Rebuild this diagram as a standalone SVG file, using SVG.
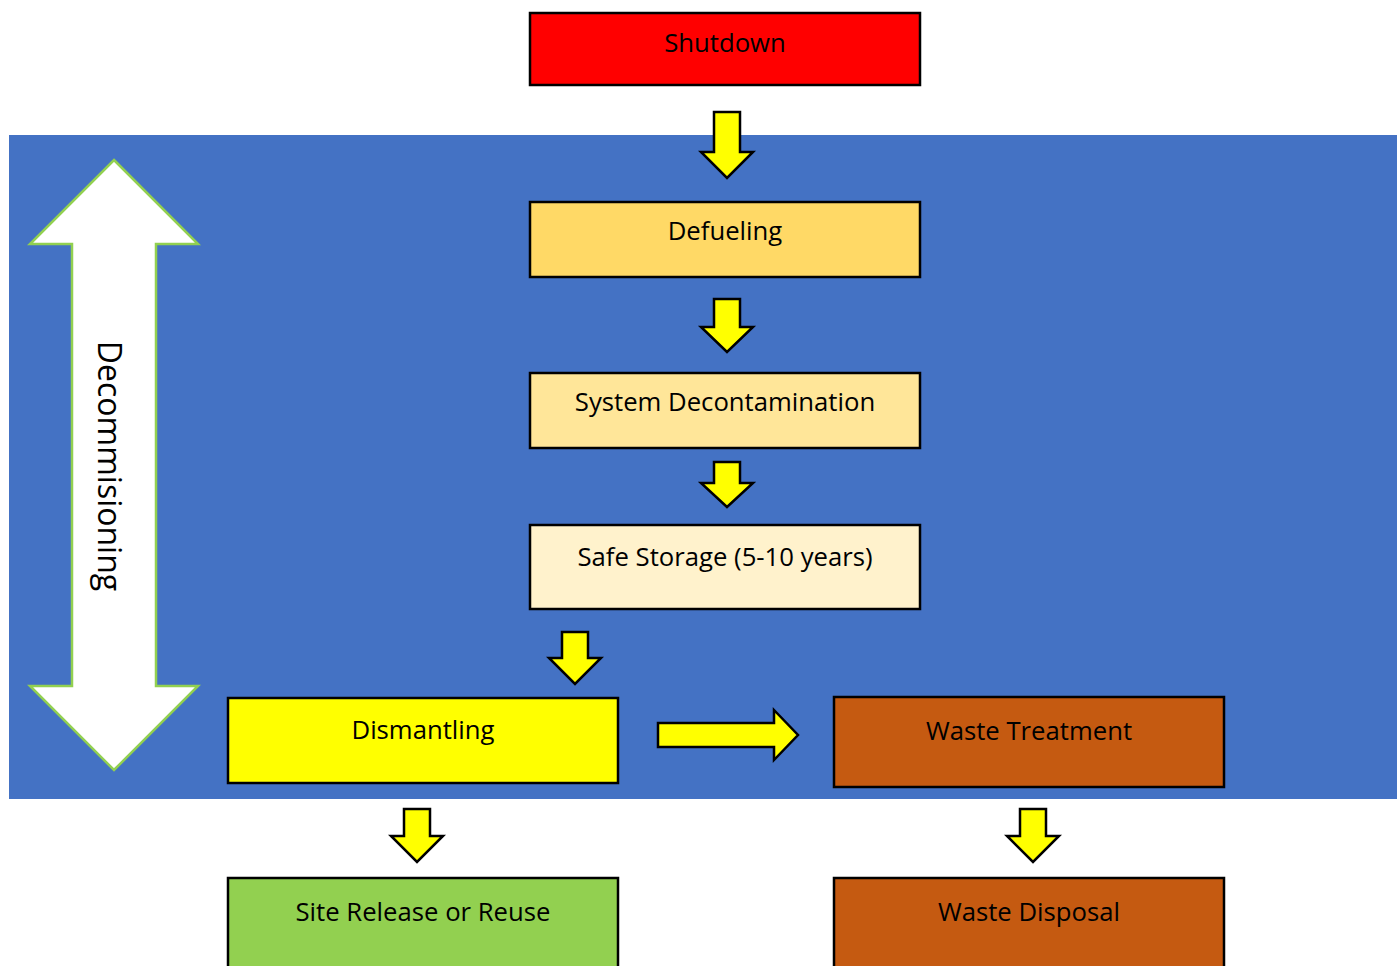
<svg xmlns="http://www.w3.org/2000/svg" width="1397" height="966" viewBox="0 0 1397 966">
<style>
.box{stroke:#000;stroke-width:2.5}
.lbl{font-family:"Open Sans","Noto Sans",sans-serif;font-size:25.7px;fill:#000;text-anchor:middle}
.arr{fill:#FFFF00;stroke:#000;stroke-width:2.5;stroke-linejoin:miter}
</style>
<rect width="1397" height="966" fill="#fff"/>
<rect x="9" y="135" width="1388" height="664" fill="#4472C4"/>
<g id="decommissioning">
<polygon points="114,160 198,244 156,244 156,686 198,686 114,770 30,686 72,686 72,244 30,244" fill="#fff" stroke="#92D050" stroke-width="2.5"/>
<text class="lbl" style="font-size:32px" transform="translate(98,466) rotate(90)" x="0" y="0">Decommisioning</text>
</g>
<g id="connectors">
<polygon class="arr" points="714,112 740,112 740,152 753,152 727,178 701,152 714,152"/>
<polygon class="arr" points="714,299 740,299 740,327 753,327 727,352 701,327 714,327"/>
<polygon class="arr" points="714,462 740,462 740,483 753,483 727,507 701,483 714,483"/>
<polygon class="arr" points="562,632 588,632 588,658 601,658 575,684 549,658 562,658"/>
<polygon class="arr" points="658,723 774,723 774,710 798,735 774,760 774,747 658,747"/>
<polygon class="arr" points="404,809 430,809 430,836 443,836 417,862 391,836 404,836"/>
<polygon class="arr" points="1020,809 1046,809 1046,836 1059,836 1033,862 1007,836 1020,836"/>
</g>
<g id="shutdown"><rect class="box" x="530" y="13" width="390" height="72" fill="#FF0000"/><text class="lbl" x="725" y="52">Shutdown</text></g>
<g id="defueling"><rect class="box" x="530" y="202" width="390" height="75" fill="#FFD966"/><text class="lbl" x="725" y="240">Defueling</text></g>
<g id="decontamination"><rect class="box" x="530" y="373" width="390" height="75" fill="#FFE699"/><text class="lbl" x="725" y="411">System Decontamination</text></g>
<g id="safe-storage"><rect class="box" x="530" y="525" width="390" height="84" fill="#FFF2CC"/><text class="lbl" x="725" y="566">Safe Storage (5-10 years)</text></g>
<g id="dismantling"><rect class="box" x="228" y="698" width="390" height="85" fill="#FFFF00"/><text class="lbl" x="423" y="739">Dismantling</text></g>
<g id="waste-treatment"><rect class="box" x="834" y="697" width="390" height="90" fill="#C55A11"/><text class="lbl" x="1029" y="740">Waste Treatment</text></g>
<g id="site-release"><rect class="box" x="228" y="878" width="390" height="100" fill="#92D050"/><text class="lbl" x="423" y="921">Site Release or Reuse</text></g>
<g id="waste-disposal"><rect class="box" x="834" y="878" width="390" height="100" fill="#C55A11"/><text class="lbl" x="1029" y="921">Waste Disposal</text></g>
</svg>
